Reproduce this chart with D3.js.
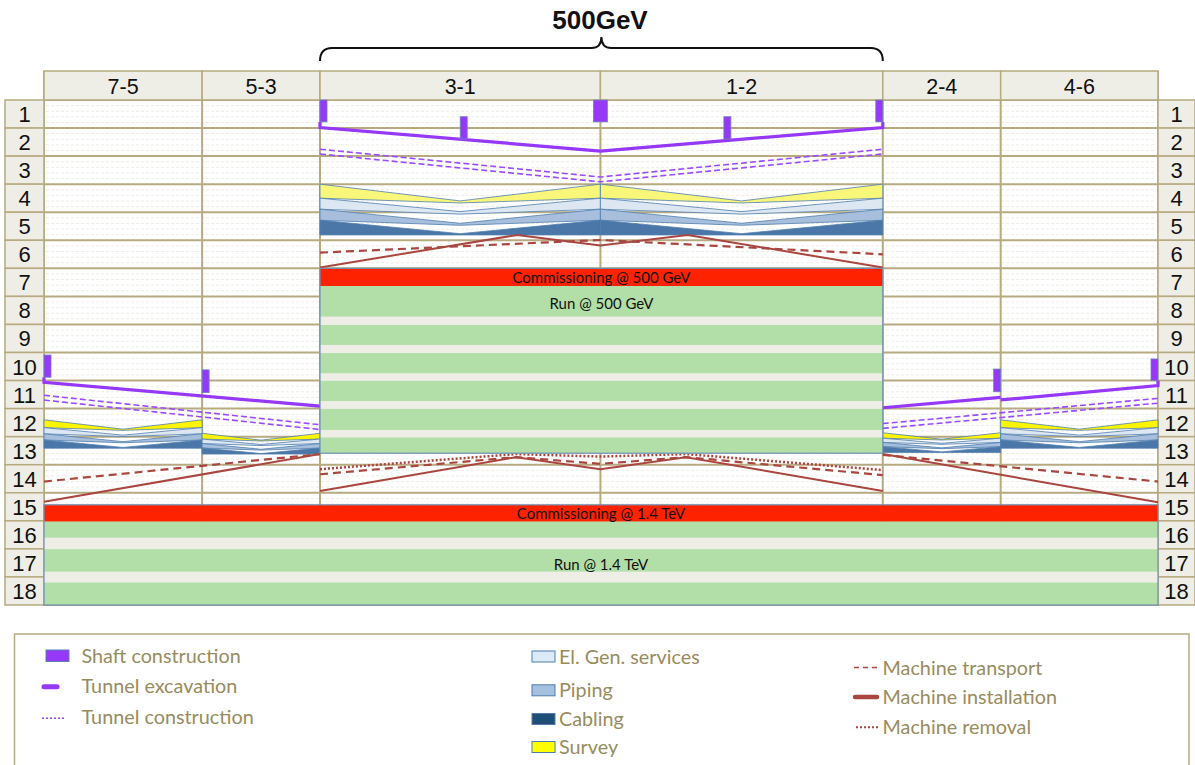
<!DOCTYPE html>
<html><head><meta charset="utf-8">
<script src="https://cdn.jsdelivr.net/npm/d3@7"></script>
<style>body{margin:0;background:#fff}svg{display:block}</style>
</head><body><svg id="c" width="1195" height="765"></svg>
<script>
// ---------- DATA ----------
const accessPoints = ["7","5","3","1","2","4","6"];
const accessKm = [-13.97,-10.0,-7.04,0,7.09,10.05,14.0];
const sections = ["7-5","5-3","3-1","1-2","2-4","4-6"];
const rowLabels = d3.range(1,19).map(String);
const stageTitle = "500GeV";
const stageSpanKm = [-7.04, 7.09];

// shafts (km, start row, end row, side, count)
const shaftKm    = [-7.04, 0, 7.09, -3.52, 3.1, -13.97, -10.0, 10.05, 14.0];
const shaftStart = [0, 0, 0, 0.595, 0.595, 9.09, 9.62, 9.59, 9.23];
const shaftEnd   = [0.78, 0.78, 0.78, 1.39, 1.39, 9.88, 10.43, 10.40, 10.0];
const shaftSide  = [1, 0, -1, 1, 1, 1, 1, -1, -1];
const shaftCount = [1, 2, 1, 1, 1, 1, 1, 1, 1];

// polylines [km, row-time]
const excavation = [
  [[-7.04,0.78],[-7.04,0.98],[0,1.82],[7.09,0.98],[7.09,0.78]],
  [[-13.97,9.88],[-13.97,10.06],[-7.04,10.91]],
  [[7.09,10.97],[10.05,10.60]],
  [[10.05,10.69],[14.0,10.18],[14.0,10.0]]
];
const construction = [
  [[-7.04,1.84],[0,2.83],[7.09,1.84]],
  [[-13.97,10.61],[-7.04,11.66]],
  [[7.09,11.62],[14.0,10.72]]
];
const transport = [
  [[-7.04,5.44],[0,4.99],[7.09,5.50]],
  [[-13.97,13.60],[-7.04,12.62]],
  [[-7.04,13.34],[-2.11,12.73],[0,12.97],[2.15,12.73],[7.09,13.37]],
  [[7.09,12.65],[14.0,13.60]]
];
const installation = [
  [[-7.04,5.97],[-2.09,4.81],[0,5.19],[2.19,4.81],[7.09,5.97]],
  [[-13.97,14.32],[-7.04,12.62]],
  [[-7.04,13.94],[-2.11,12.73],[0,13.16],[2.15,12.73],[7.09,13.94]],
  [[7.09,12.62],[14.0,14.34]]
];
const removal = [
  [[-7.04,13.16],[-2.11,12.62],[0,12.71],[2.15,12.62],[7.09,13.19]]
];

// services sections
const svcFrom  = [-7.04, 0, -13.97, -10.0, 7.09, 10.05];
const svcTo    = [0, 7.09, -10.0, -7.04, 10.05, 14.0];
const svcStart = [3.0, 3.0, 11.40, 11.88, 11.86, 11.40];
const svcDur   = [1.81, 1.81, 1.01, 0.74, 0.70, 1.01];
const services = ["Survey","El. Gen. services","Piping","Cabling"];
// band fractions of duration: top/bottom at shaft ends and at section middle
const svcTopEnd = [0, 0.276, 0.493, 0.71];
const svcBotEnd = [0.276, 0.493, 0.71, 1.0];
const svcTopMid = [0.33, 0.54, 0.77, 0.975];
const svcBotMid = [0.37, 0.59, 0.81, 1.0];

// commissioning & running
const commission500 = [6.0, 6.63];
const run500 = [[6.63,7.72],[8.02,8.73],[9.02,9.74],[10.01,10.73],[11.01,11.76],[12.03,12.59]];
const commission1400 = [14.43, 15.03];
const run1400 = [[15.03,15.6],[16.01,16.81],[17.2,18.0]];
const barLabels = ["Commissioning @ 500 GeV","Run @ 500 GeV","Commissioning @ 1.4 TeV","Run @ 1.4 TeV"];

const legendLeft = ["Shaft construction","Tunnel excavation","Tunnel construction"];
const legendMid = ["El. Gen. services","Piping","Cabling","Survey"];
const legendRight = ["Machine transport","Machine installation","Machine removal"];

// ---------- STYLE ----------
const C = {
  tan:"#B7AA80", cream:"#EFEEE6", purple:"#9538F8", brown:"#A9463F",
  red:"#FF2200", green:"#B2DFA8", frame:"#6F90B2", legendText:"#978C5E"
};
const svcFillUp = ["#F9F77A","#DDE7F2","#A7BFDD","#4A77A8"];
const svcFillLo = ["#FFF500","#DDE7F2","#A7BFDD","#4A77A8"];
const legendSwatch = ["#DDEBF7","#A6C0E0","#1F4E79","#FFFF00"];

const svg = d3.select("#c");
const x = d3.scaleLinear().domain([accessKm[0], accessKm[6]]).range([44,1158]);
const y = d3.scaleLinear().domain([0,18]).range([100,605]);
const line = d3.line().x(d=>x(d[0])).y(d=>y(d[1]));

// ---------- GRID ----------
const g = svg.append("g");
g.append("rect").attr("x",44).attr("y",100).attr("width",1114).attr("height",505).attr("fill","#fff");
rowLabels.forEach((r,i)=>{
  for(let k=1;k<5;k++){
    g.append("line").attr("x1",46).attr("x2",1156).attr("y1",y(i+k/5)).attr("y2",y(i+k/5))
     .attr("stroke","#EEEDE5").attr("stroke-width",1).attr("stroke-dasharray","3,2");
  }
});
d3.range(0,19).forEach(i=>{
  g.append("line").attr("x1",44).attr("x2",1158).attr("y1",y(i)).attr("y2",y(i))
   .attr("stroke",C.tan).attr("stroke-width",2);
});
accessKm.forEach(k=>{
  g.append("line").attr("x1",x(k)).attr("x2",x(k)).attr("y1",71).attr("y2",605)
   .attr("stroke",C.tan).attr("stroke-width",2);
});
sections.forEach((s,i)=>{
  g.append("rect").attr("x",x(accessKm[i])).attr("y",71).attr("width",x(accessKm[i+1])-x(accessKm[i])).attr("height",29)
   .attr("fill",C.cream).attr("stroke",C.tan).attr("stroke-width",1.5);
  g.append("text").attr("x",(x(accessKm[i])+x(accessKm[i+1]))/2).attr("y",93.5)
   .attr("text-anchor","middle").attr("font-family","Liberation Sans, Arial").attr("font-size",21.5).attr("fill","#111").text(s);
});
rowLabels.forEach((r,i)=>{
  [[5,39],[1158,37]].forEach(([x0,w])=>{
    g.append("rect").attr("x",x0).attr("y",y(i)).attr("width",w).attr("height",y(i+1)-y(i))
     .attr("fill",C.cream).attr("stroke",C.tan).attr("stroke-width",1.5);
    g.append("text").attr("x",x0+w/2).attr("y",(y(i)+y(i+1))/2+8).attr("text-anchor","middle")
     .attr("font-family","Liberation Sans, Arial").attr("font-size",22).attr("fill","#111").text(r);
  });
});

svg.append("text").attr("x",600).attr("y",29).attr("text-anchor","middle").attr("font-family","Liberation Sans, Arial")
  .attr("font-weight","bold").attr("font-size",26).attr("fill","#111").text(stageTitle);
const bx0 = x(stageSpanKm[0]), bx1 = x(stageSpanKm[1]), bm=(bx0+bx1)/2;
svg.append("path").attr("d",`M${bx0},61 Q${bx0},48 ${bx0+12},48 L${bm-10},48 Q${bm},48 ${bm},37 Q${bm},48 ${bm+10},48 L${bx1-12},48 Q${bx1},48 ${bx1},61`)
  .attr("fill","none").attr("stroke","#111").attr("stroke-width",2);

// ---------- SERVICES ----------
const sv = svg.append("g");
svcFrom.forEach((f,s)=>{
  const t=svcTo[s], m=(f+t)/2, st=svcStart[s], du=svcDur[s];
  const fills = s<2 ? svcFillUp : svcFillLo;
  services.forEach((name,b)=>{
    const pts = [[f,st+du*svcTopEnd[b]],[m,st+du*svcTopMid[b]],[t,st+du*svcTopEnd[b]],
                 [t,st+du*svcBotEnd[b]],[m,st+du*svcBotMid[b]],[f,st+du*svcBotEnd[b]]];
    sv.append("path").attr("d",line(pts)+"Z").attr("fill",fills[b]).attr("stroke","#4F7DAF").attr("stroke-width",0.8);
  });
});

// ---------- MACHINE LINES ----------
const ml = svg.append("g").attr("fill","none");
transport.forEach(p=>ml.append("path").attr("d",line(p)).attr("stroke",C.brown).attr("stroke-width",2.2).attr("stroke-dasharray","8,5"));
installation.forEach(p=>ml.append("path").attr("d",line(p)).attr("stroke",C.brown).attr("stroke-width",2));
removal.forEach(p=>ml.append("path").attr("d",line(p)).attr("stroke",C.brown).attr("stroke-width",2.5).attr("stroke-dasharray","2,2"));

// ---------- TUNNEL ----------
const tl = svg.append("g").attr("fill","none");
construction.forEach(p=>{
  [-2.4,2.4].forEach(o=>tl.append("path").attr("d",line(p)).attr("transform",`translate(0,${o})`)
    .attr("stroke","#9B4BFF").attr("stroke-width",1.6).attr("stroke-dasharray","6,3"));
});
excavation.forEach(p=>tl.append("path").attr("d",line(p)).attr("stroke",C.purple).attr("stroke-width",3.2));
shaftKm.forEach((k,i)=>{
  const w = 7*shaftCount[i];
  const xc = x(k);
  const x0 = shaftSide[i]===1 ? xc : shaftSide[i]===-1 ? xc-w : xc-w/2;
  svg.append("rect").attr("x",x0).attr("y",y(shaftStart[i])).attr("width",w).attr("height",y(shaftEnd[i])-y(shaftStart[i]))
    .attr("fill",C.purple).attr("stroke","#6B86B8").attr("stroke-width",0.8);
});

// ---------- COMMISSIONING / RUN ----------
function block(x0,x1,comm,runs,l1,l2,runLabelT){
  const b = svg.append("g");
  b.append("rect").attr("x",x0).attr("y",y(comm[1])).attr("width",x1-x0).attr("height",y(runs[runs.length-1][1])-y(comm[1])).attr("fill",C.cream);
  b.append("rect").attr("x",x0).attr("y",y(comm[0])).attr("width",x1-x0).attr("height",y(comm[1])-y(comm[0])).attr("fill",C.red);
  runs.forEach(r=>b.append("rect").attr("x",x0).attr("y",y(r[0])).attr("width",x1-x0).attr("height",y(r[1])-y(r[0])).attr("fill",C.green));
  b.append("rect").attr("x",x0).attr("y",y(comm[0])).attr("width",x1-x0).attr("height",y(runs[runs.length-1][1])-y(comm[0]))
    .attr("fill","none").attr("stroke",C.frame).attr("stroke-width",1.2);
  b.append("text").attr("x",(x0+x1)/2).attr("y",(y(comm[0])+y(comm[1]))/2+5.5).attr("text-anchor","middle")
    .attr("font-family","Lato").attr("font-size",15).attr("fill","#111").text(l1);
  b.append("text").attr("x",(x0+x1)/2).attr("y",y(runLabelT)+5.5).attr("text-anchor","middle")
    .attr("font-family","Lato").attr("font-size",15).attr("fill","#111").text(l2);
}
block(x(stageSpanKm[0]),x(stageSpanKm[1]),commission500,run500,barLabels[0],barLabels[1],7.25);
block(x(accessKm[0]),x(accessKm[6]),commission1400,run1400,barLabels[2],barLabels[3],16.55);

// ---------- LEGEND ----------
const lg = svg.append("g");
lg.append("rect").attr("x",14.5).attr("y",634).attr("width",1174.5).attr("height",140).attr("fill","#fff").attr("stroke",C.tan).attr("stroke-width",1.5);
const lt = (tx,ty,s)=>lg.append("text").attr("x",tx).attr("y",ty+7).attr("font-family","Lato").attr("font-size",19.8).attr("fill",C.legendText).text(s);
lg.append("rect").attr("x",46).attr("y",650).attr("width",23).attr("height",11.5).attr("fill",C.purple).attr("stroke","#5F7FB0");
lt(81.5,656,legendLeft[0]);
lg.append("line").attr("x1",44).attr("x2",57).attr("y1",686.7).attr("y2",686.7).attr("stroke",C.purple).attr("stroke-width",5).attr("stroke-linecap","round");
lt(81.5,686,legendLeft[1]);
lg.append("line").attr("x1",42).attr("x2",66).attr("y1",718.3).attr("y2",718.3).attr("stroke",C.purple).attr("stroke-width",1.5).attr("stroke-dasharray","2,2");
lt(81.5,717.3,legendLeft[2]);
const midY = [656.5,690.3,719,747];
legendMid.forEach((s,i)=>{
  lg.append("rect").attr("x",532).attr("y",midY[i]-5.5).attr("width",23).attr("height",11).attr("fill",legendSwatch[i]).attr("stroke","#4F7DAF").attr("stroke-width",1);
  lt(559,midY[i],s);
});
const rY = [667.5,697,727.3];
lg.append("line").attr("x1",854).attr("x2",879).attr("y1",rY[0]).attr("y2",rY[0]).attr("stroke",C.brown).attr("stroke-width",1.5).attr("stroke-dasharray","5,4");
lg.append("line").attr("x1",855).attr("x2",877).attr("y1",rY[1]).attr("y2",rY[1]).attr("stroke",C.brown).attr("stroke-width",4.5).attr("stroke-linecap","round");
lg.append("line").attr("x1",856).attr("x2",879).attr("y1",rY[2]).attr("y2",rY[2]).attr("stroke",C.brown).attr("stroke-width",2).attr("stroke-dasharray","2,2");
legendRight.forEach((s,i)=>lt(882.5,rY[i],s));
</script></body></html>
